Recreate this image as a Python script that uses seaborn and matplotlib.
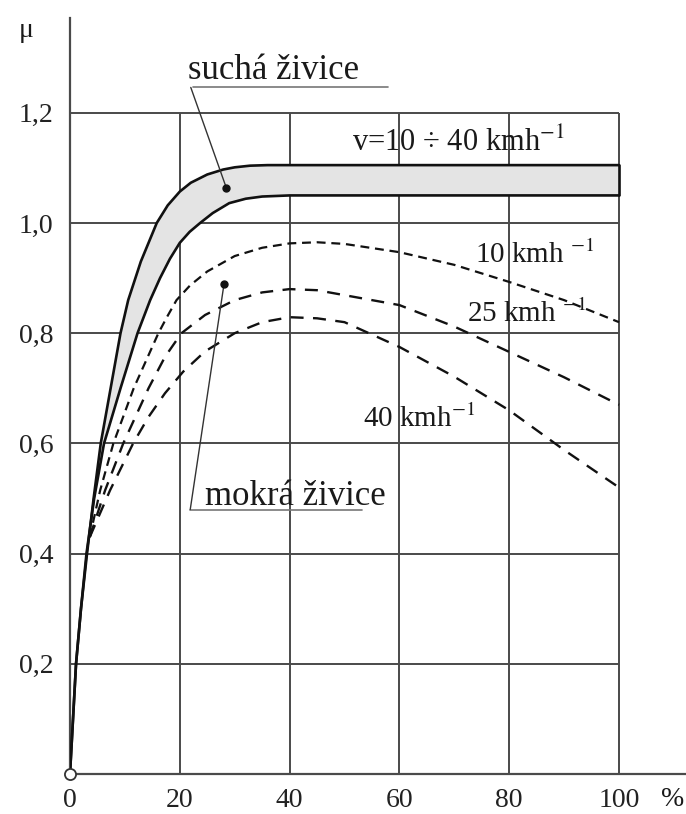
import numpy as np
import pandas as pd
import matplotlib
matplotlib.use("Agg")
import matplotlib.pyplot as plt
import seaborn as sns

# ---- data ----
dry_upper_x = [0, 1.1, 2.0, 3.1, 4.3, 5.6, 7.4, 9.2, 10.6, 12.9, 15.8, 17.8, 20, 22, 25, 27.9, 30, 32.8, 36, 40, 100]
dry_upper_y = [0, 0.20, 0.30, 0.40, 0.50, 0.60, 0.70, 0.80, 0.86, 0.93, 1.00, 1.032, 1.057, 1.073, 1.088, 1.097, 1.101, 1.104, 1.105, 1.105, 1.105]

dry_lower_x = [0, 1.1, 2.0, 3.0, 4.4, 6.2, 9.2, 12.3, 14.6, 16.4, 18.2, 20, 21.8, 23.7, 26, 29, 32, 35, 40, 100]
dry_lower_y = [0, 0.20, 0.30, 0.40, 0.50, 0.60, 0.70, 0.80, 0.86, 0.90, 0.935, 0.964, 0.984, 1.00, 1.018, 1.036, 1.044, 1.048, 1.05, 1.05]

wet10_x = [3.6, 5.5, 7.9, 11.6, 16.1, 17.7, 19.4, 21.9, 25, 30, 35, 40, 45, 50, 60, 70, 80, 90, 100]
wet10_y = [0.43, 0.515, 0.60, 0.70, 0.80, 0.83, 0.86, 0.887, 0.912, 0.94, 0.955, 0.963, 0.965, 0.962, 0.947, 0.924, 0.893, 0.86, 0.82]

wet25_x = [3.6, 6.4, 9.7, 14.3, 17.3, 20.3, 24.6, 30, 35, 40, 45, 50, 60, 70, 80, 90, 100]
wet25_y = [0.43, 0.515, 0.60, 0.70, 0.757, 0.80, 0.833, 0.86, 0.874, 0.88, 0.878, 0.869, 0.851, 0.812, 0.766, 0.72, 0.67]

wet40_x = [3.6, 7.3, 11.5, 14.3, 17.3, 20.6, 24.6, 30, 35, 40, 45, 50, 60, 70, 80, 90, 100]
wet40_y = [0.43, 0.515, 0.60, 0.648, 0.691, 0.73, 0.767, 0.80, 0.82, 0.829, 0.827, 0.82, 0.775, 0.721, 0.66, 0.588, 0.52]

x_ticks = [0, 20, 40, 60, 80, 100]
x_tick_labels = ["0", "20", "40", "60", "80", "100"]
y_ticks = [0.2, 0.4, 0.6, 0.8, 1.0, 1.2]
y_tick_labels = ["0,2", "0,4", "0,6", "0,8", "1,0", "1,2"]

# ---- style ----
sns.set_style("white")
plt.rcParams["font.family"] = ["Liberation Serif", "DejaVu Serif"]
plt.rcParams["mathtext.fontset"] = "stix"

fig = plt.figure(figsize=(6.86, 8.14), dpi=100)
ax = fig.add_axes([70 / 686, 40 / 814, 616 / 686, 756 / 814])
ax.set_xlim(0, 112.2)
ax.set_ylim(0, 1.372)

gcol = "#4a4a4a"
# grid
ax.hlines(y_ticks, 0, 100, color=gcol, lw=1.4, zorder=1)
ax.vlines(x_ticks[1:], 0, 1.2, color=gcol, lw=1.4, zorder=1)

# shaded dry band
poly_x = np.concatenate([dry_upper_x, dry_lower_x[::-1]])
poly_y = np.concatenate([dry_upper_y, dry_lower_y[::-1]])
ax.fill(poly_x, poly_y, color="#e4e4e4", lw=0, zorder=2)

black = "#111111"
sns.lineplot(x=dry_upper_x, y=dry_upper_y, ax=ax, color=black, lw=1.9, sort=False, zorder=4)
sns.lineplot(x=dry_lower_x, y=dry_lower_y, ax=ax, color=black, lw=1.9, sort=False, zorder=4)
ax.plot([dry_upper_x[-1], dry_lower_x[-1]], [dry_upper_y[-1], dry_lower_y[-1]], color=black, lw=1.9, zorder=4)

sns.lineplot(x=wet10_x, y=wet10_y, ax=ax, color=black, lw=1.6, sort=False, linestyle=(0, (4.0, 2.6)), zorder=4)
sns.lineplot(x=wet25_x, y=wet25_y, ax=ax, color=black, lw=1.7, sort=False, linestyle=(0, (5.5, 4.0)), zorder=4)
sns.lineplot(x=wet40_x, y=wet40_y, ax=ax, color=black, lw=1.7, sort=False, linestyle=(0, (5.5, 4.0)), zorder=4)

# origin circle
ax.plot([0], [0], marker="o", ms=8, mfc="white", mec="#333333", mew=1.3, clip_on=False, zorder=6)

# spines
for s in ["top", "right"]:
    ax.spines[s].set_visible(False)
for s in ["left", "bottom"]:
    ax.spines[s].set_color(gcol)
    ax.spines[s].set_linewidth(1.6)

ax.set_xticks(x_ticks)
ax.set_xticklabels(x_tick_labels)
ax.set_yticks(y_ticks)
ax.set_yticklabels(y_tick_labels)
ax.tick_params(axis="both", length=0, labelsize=20, colors="#222222")
ax.tick_params(axis="x", pad=10)
ax.tick_params(axis="y", pad=12)
ax.set_xlabel("")
ax.set_ylabel("")

tc = "#1a1a1a"
ax.text(-8.0, 1.338, "μ", fontsize=20, ha="center", va="baseline", color=tc, clip_on=False)
ax.text(109.7, -0.047, "%", fontsize=20, ha="center", va="center", color=tc, clip_on=False)

# labels / annotations
ax.text(21.5, 1.261, "suchá živice", fontsize=25, ha="left", va="baseline", color=tc)
ax.plot([22.4, 57.9], [1.246, 1.246], color="#777777", lw=1.2)
ax.plot([22.0, 28.5], [1.246, 1.063], color="#333333", lw=1.0, zorder=5)
ax.plot([28.5], [1.063], marker="o", ms=5, color=black, zorder=6)

ax.text(24.6, 0.488, "mokrá živice", fontsize=25, ha="left", va="baseline", color=tc, zorder=7)
ax.plot([21.9, 53.2], [0.480, 0.480], color="#777777", lw=1.2)
ax.plot([21.9, 28.05], [0.480, 0.889], color="#333333", lw=1.0, zorder=5)
ax.plot([28.05], [0.889], marker="o", ms=5, color=black, zorder=6)

ax.text(51.3, 1.130, "v=10 ÷ 40 kmh$^{-1}$", fontsize=22, ha="left", va="baseline", color=tc)
ax.text(73.8, 0.927, "10 kmh $^{-1}$", fontsize=21, ha="left", va="baseline", color=tc, zorder=7)
ax.text(72.3, 0.821, "25 kmh $^{-1}$", fontsize=21, ha="left", va="baseline", color=tc, zorder=7)
ax.text(53.4, 0.630, "40 kmh$^{-1}$", fontsize=21, ha="left", va="baseline", color=tc, zorder=7)

fig.savefig("out.png", dpi=100, facecolor="white")
